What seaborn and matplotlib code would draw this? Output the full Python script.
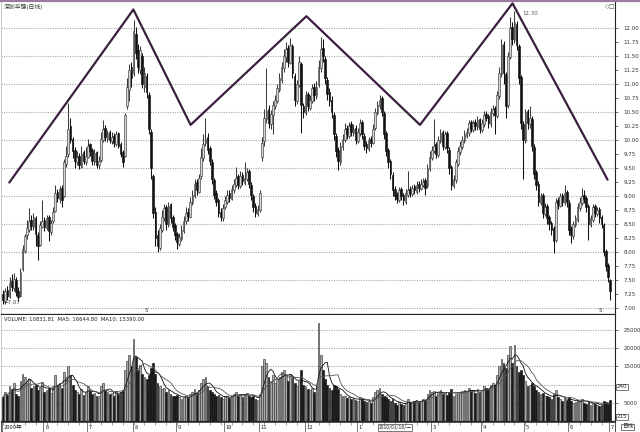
import numpy as np
import pandas as pd
import matplotlib
matplotlib.use("Agg")
import matplotlib.pyplot as plt
from matplotlib.lines import Line2D
import seaborn as sns

title = "深圳华强(日线)"
vol_header = "VOLUME: 10831.81  MA5: 16644.80  MA10: 15390.00"

opens = [7.25, 7.12, 7.32, 7.20, 7.48, 7.35, 7.50, 7.30, 7.22, 7.70,
         8.02, 8.30, 8.40, 8.58, 8.44, 8.60, 8.30, 8.12, 8.45, 8.58,
         8.42, 8.62, 8.36, 8.55, 8.74, 9.08, 8.94, 9.15, 9.00, 9.58,
         9.75, 10.25, 10.02, 9.82, 9.60, 9.72, 9.52, 9.78, 9.60, 9.70,
         9.92, 9.82, 9.60, 9.78, 9.55, 9.65, 10.00, 10.22, 10.02, 10.14,
         9.98, 10.08, 9.92, 10.12, 9.92, 9.78, 9.72, 10.60, 10.90, 11.30,
         11.20, 11.90, 11.60, 11.25, 11.50, 10.95, 11.15, 10.80, 10.15, 9.35,
         8.72, 8.30, 8.08, 8.40, 8.60, 8.80, 8.48, 8.85, 8.62, 8.48,
         8.32, 8.15, 8.24, 8.38, 8.55, 8.72, 8.62, 8.88, 9.00, 9.25,
         9.08, 9.35, 9.68, 9.95, 10.05, 9.85, 9.60, 9.28, 9.05, 8.92,
         8.72, 8.60, 8.80, 8.90, 9.05, 8.95, 9.10, 9.20, 9.35, 9.18,
         9.38, 9.24, 9.30, 9.44, 9.20, 9.00, 8.82, 8.68, 8.75, 9.70,
         9.98, 10.38, 10.55, 10.28, 10.44, 10.60, 10.70, 10.90, 11.08, 11.28,
         11.48, 11.65, 11.38, 11.68, 11.15, 10.70, 10.98, 11.35, 10.60, 10.48,
         10.82, 10.58, 10.70, 10.95, 10.78, 10.98, 11.28, 11.65, 11.45, 11.08,
         10.85, 10.72, 10.45, 10.08, 9.82, 9.60, 9.88, 10.00, 10.22, 10.08,
         10.28, 10.12, 10.22, 9.98, 10.12, 10.32, 10.08, 9.92, 9.84, 10.02,
         9.95, 10.22, 10.48, 10.60, 10.75, 10.48, 10.12, 9.82, 9.62, 9.38,
         9.12, 9.02, 8.93, 9.12, 9.02, 8.90, 9.02, 9.12, 9.03, 9.17,
         9.08, 9.22, 9.13, 9.20, 9.28, 9.18, 9.48, 9.68, 9.80, 9.92,
         9.73, 9.98, 10.14, 9.88, 10.12, 9.83, 9.52, 9.18, 9.28, 9.58,
         9.78, 9.88, 9.98, 10.08, 10.13, 10.32, 10.18, 10.32, 10.23, 10.37,
         10.18, 10.28, 10.47, 10.42, 10.28, 10.48, 10.57, 10.43, 10.78, 11.18,
         11.72, 11.18, 10.62, 11.48, 12.02, 11.78, 12.08, 11.68, 11.12, 10.28,
         9.98, 10.52, 10.28, 10.38, 9.88, 9.42, 9.22, 8.88, 9.02, 8.68,
         8.82, 8.62, 8.52, 8.42, 8.22, 8.92, 8.83, 9.02, 8.88, 9.07,
         8.88, 8.42, 8.28, 8.48, 8.58, 8.78, 8.88, 9.02, 8.97, 8.82,
         8.48, 8.58, 8.82, 8.68, 8.77, 8.62, 8.48, 8.02, 7.77, 7.50]

highs = [7.32, 7.36, 7.40, 7.55, 7.60, 7.62, 7.55, 7.38, 7.72, 8.12,
         8.32, 8.58, 8.78, 8.66, 8.70, 8.64, 8.36, 8.55, 8.92, 8.62,
         8.66, 8.66, 8.58, 8.80, 9.20, 9.12, 9.18, 9.20, 9.66, 9.90,
         10.66, 10.40, 10.05, 9.88, 9.80, 9.76, 9.90, 9.82, 9.88, 10.02,
         9.95, 9.85, 9.84, 9.80, 9.72, 10.15, 10.35, 10.26, 10.18, 10.18,
         10.14, 10.12, 10.16, 10.14, 9.96, 9.82, 10.48, 11.10, 11.35, 11.40,
         12.14, 12.02, 11.72, 11.68, 11.55, 11.30, 11.20, 10.85, 10.20, 9.40,
         8.80, 8.40, 8.50, 8.75, 8.85, 8.84, 8.90, 8.88, 8.66, 8.52,
         8.36, 8.34, 8.48, 8.64, 8.80, 8.78, 8.98, 9.10, 9.30, 9.30,
         9.40, 9.85, 10.10, 10.39, 10.12, 9.90, 9.66, 9.32, 9.10, 8.96,
         8.78, 8.86, 9.00, 9.10, 9.10, 9.20, 9.30, 9.52, 9.40, 9.44,
         9.42, 9.60, 9.50, 9.48, 9.25, 9.04, 8.88, 8.84, 9.10, 10.05,
         10.55, 11.28, 10.62, 10.54, 10.70, 10.80, 11.00, 11.20, 11.40, 11.62,
         11.75, 11.70, 11.82, 11.72, 11.20, 11.08, 11.50, 11.40, 10.66, 10.88,
         10.86, 10.80, 11.00, 11.02, 11.05, 11.42, 11.84, 11.80, 11.50, 11.12,
         10.92, 10.78, 10.50, 10.12, 9.88, 9.96, 10.10, 10.30, 10.26, 10.32,
         10.34, 10.28, 10.26, 10.22, 10.38, 10.35, 10.12, 9.98, 10.06, 10.08,
         10.28, 10.58, 10.70, 10.80, 10.78, 10.52, 10.16, 9.86, 9.66, 9.42,
         9.18, 9.08, 9.16, 9.16, 9.06, 9.12, 9.45, 9.18, 9.20, 9.22,
         9.26, 9.26, 9.30, 9.32, 9.32, 9.58, 9.80, 9.90, 10.38, 9.96,
         10.08, 10.20, 10.18, 10.16, 10.16, 9.88, 9.56, 9.38, 9.66, 9.88,
         9.98, 10.08, 10.18, 10.22, 10.36, 10.36, 10.36, 10.38, 10.42, 10.40,
         10.38, 10.52, 10.52, 10.46, 10.58, 10.62, 10.60, 10.88, 11.30, 11.80,
         11.76, 11.22, 11.58, 12.20, 12.10, 12.30, 12.12, 11.72, 11.16, 10.34,
         10.56, 10.56, 10.60, 10.42, 9.92, 9.46, 9.26, 9.06, 9.06, 8.88,
         8.86, 8.66, 8.56, 8.46, 8.96, 8.98, 9.06, 9.06, 9.20, 9.10,
         8.92, 8.46, 8.56, 8.66, 8.88, 8.98, 9.14, 9.10, 9.00, 8.86,
         8.66, 8.86, 8.86, 8.80, 8.80, 8.66, 8.52, 8.06, 7.80, 7.52]

lows = [7.08, 7.07, 7.15, 7.18, 7.30, 7.30, 7.22, 7.12, 7.20, 7.66,
        7.98, 8.24, 8.36, 8.40, 8.40, 8.10, 7.86, 8.10, 8.42, 8.38,
        8.40, 8.20, 8.30, 8.52, 8.72, 8.90, 8.88, 8.80, 8.98, 9.52,
        9.70, 9.95, 9.68, 9.50, 9.55, 9.48, 9.50, 9.58, 9.56, 9.68,
        9.72, 9.55, 9.55, 9.50, 9.48, 9.60, 9.96, 9.98, 9.96, 9.94,
        9.92, 9.88, 9.90, 9.85, 9.70, 9.52, 9.70, 10.55, 10.70, 10.95,
        11.15, 11.45, 11.20, 11.18, 10.92, 10.85, 10.75, 10.10, 9.30, 8.60,
        8.10, 8.00, 8.04, 8.35, 8.55, 8.40, 8.45, 8.52, 8.38, 8.22,
        8.05, 8.10, 8.20, 8.34, 8.50, 8.55, 8.60, 8.84, 8.96, 9.02,
        9.05, 9.30, 9.62, 9.90, 9.75, 9.55, 9.22, 8.95, 8.82, 8.62,
        8.55, 8.56, 8.76, 8.86, 8.90, 8.92, 9.06, 9.16, 9.12, 9.15,
        9.20, 9.20, 9.26, 9.15, 8.92, 8.72, 8.62, 8.64, 8.72, 9.62,
        9.90, 10.30, 10.22, 10.20, 10.10, 10.55, 10.66, 10.86, 11.02, 11.22,
        11.40, 11.30, 11.35, 11.10, 10.60, 10.65, 10.94, 10.12, 10.40, 10.44,
        10.52, 10.54, 10.66, 10.70, 10.74, 10.94, 11.22, 11.40, 11.00, 10.72,
        10.60, 10.40, 10.00, 9.70, 9.46, 9.56, 9.82, 9.96, 10.02, 10.04,
        10.08, 10.08, 9.92, 9.94, 10.08, 10.02, 9.82, 9.76, 9.80, 9.88,
        9.92, 10.18, 10.44, 10.56, 10.42, 10.02, 9.72, 9.50, 9.30, 9.00,
        8.92, 8.88, 8.90, 8.92, 8.84, 8.86, 8.98, 8.98, 9.00, 9.04,
        9.04, 9.08, 9.10, 9.16, 9.02, 9.14, 9.44, 9.64, 9.76, 9.68,
        9.70, 9.94, 9.82, 9.84, 9.76, 9.40, 9.10, 9.14, 9.24, 9.54,
        9.74, 9.84, 9.94, 10.04, 10.08, 10.14, 10.14, 10.18, 10.18, 10.12,
        10.14, 10.24, 10.34, 10.22, 10.24, 10.42, 10.10, 10.40, 10.74, 11.12,
        11.00, 10.40, 10.58, 11.44, 11.70, 11.74, 11.60, 11.00, 10.20, 9.30,
        9.94, 10.20, 10.22, 9.80, 9.30, 9.10, 8.82, 8.84, 8.60, 8.64,
        8.50, 8.40, 8.30, 7.98, 8.18, 8.76, 8.80, 8.82, 8.84, 8.80,
        8.30, 8.16, 8.24, 8.44, 8.54, 8.74, 8.84, 8.88, 8.72, 8.22,
        8.44, 8.54, 8.62, 8.64, 8.52, 8.42, 7.92, 7.66, 7.46, 7.15]

closes = [7.15, 7.30, 7.22, 7.45, 7.38, 7.52, 7.28, 7.20, 7.65, 8.05,
          8.28, 8.42, 8.55, 8.46, 8.62, 8.32, 8.10, 8.48, 8.56, 8.44,
          8.60, 8.38, 8.52, 8.72, 9.05, 8.96, 9.12, 8.92, 9.60, 9.72,
          10.20, 10.00, 9.80, 9.62, 9.70, 9.55, 9.75, 9.62, 9.72, 9.90,
          9.80, 9.62, 9.76, 9.56, 9.62, 10.02, 10.20, 10.05, 10.12, 10.00,
          10.06, 9.95, 10.10, 9.90, 9.75, 9.60, 10.45, 10.95, 11.25, 11.10,
          11.95, 11.55, 11.30, 11.60, 11.00, 11.20, 10.85, 10.20, 9.50, 8.70,
          8.25, 8.10, 8.42, 8.62, 8.78, 8.50, 8.82, 8.60, 8.45, 8.30,
          8.18, 8.26, 8.40, 8.56, 8.70, 8.64, 8.90, 9.02, 9.22, 9.10,
          9.32, 9.70, 9.92, 10.02, 9.82, 9.62, 9.30, 9.02, 8.90, 8.70,
          8.62, 8.78, 8.92, 9.02, 8.96, 9.12, 9.22, 9.32, 9.20, 9.36,
          9.26, 9.32, 9.42, 9.22, 9.02, 8.80, 8.70, 8.76, 9.05, 9.95,
          10.40, 10.52, 10.30, 10.46, 10.62, 10.72, 10.92, 11.10, 11.30, 11.50,
          11.62, 11.40, 11.70, 11.20, 10.72, 11.00, 11.40, 10.62, 10.50, 10.80,
          10.60, 10.72, 10.92, 10.80, 10.95, 11.30, 11.62, 11.50, 11.10, 10.82,
          10.70, 10.50, 10.10, 9.80, 9.62, 9.90, 10.02, 10.20, 10.10, 10.25,
          10.15, 10.20, 10.00, 10.15, 10.30, 10.10, 9.90, 9.85, 10.00, 9.95,
          10.20, 10.50, 10.62, 10.72, 10.50, 10.10, 9.80, 9.60, 9.40, 9.10,
          9.00, 8.95, 9.10, 9.00, 8.92, 9.05, 9.10, 9.05, 9.15, 9.10,
          9.20, 9.15, 9.22, 9.25, 9.15, 9.50, 9.70, 9.82, 9.90, 9.75,
          10.00, 10.12, 9.90, 10.10, 9.85, 9.50, 9.20, 9.30, 9.60, 9.80,
          9.90, 10.00, 10.10, 10.15, 10.30, 10.20, 10.30, 10.25, 10.35, 10.20,
          10.30, 10.45, 10.40, 10.30, 10.50, 10.55, 10.45, 10.80, 11.20, 11.70,
          11.20, 10.60, 11.50, 12.00, 11.80, 12.10, 11.70, 11.10, 10.30, 10.00,
          10.50, 10.30, 10.40, 9.90, 9.40, 9.20, 8.90, 9.00, 8.70, 8.80,
          8.60, 8.50, 8.40, 8.20, 8.90, 8.85, 9.00, 8.90, 9.05, 8.90,
          8.40, 8.30, 8.50, 8.60, 8.80, 8.90, 9.00, 8.95, 8.80, 8.50,
          8.60, 8.80, 8.70, 8.75, 8.60, 8.50, 8.00, 7.75, 7.55, 7.30]

volumes = [6500, 8000, 7200, 9500, 8800, 10500, 7500, 6800, 11000, 13000,
           12000, 10500, 11500, 9000, 9500, 10000, 8500, 9200, 10800, 8000,
           8500, 9000, 7800, 9500, 12500, 10000, 10500, 9000, 13500, 12000,
           15000, 12500, 10000, 8500, 8000, 7500, 8800, 7200, 8000, 9500,
           8200, 7500, 7800, 7000, 6800, 9500, 10500, 8500, 8000, 7500,
           7800, 7000, 8200, 7500, 8000, 8500, 14000, 16500, 18000, 15000,
           22500, 17500, 14000, 15500, 13000, 12000, 11500, 12500, 14500, 16000,
           13000, 10500, 9500, 8800, 9000, 8000, 8500, 7500, 7000, 6800,
           7200, 6500, 6000, 6500, 7000, 6200, 7500, 8000, 8800, 7800,
           8500, 10500, 11500, 12000, 9500, 8500, 8000, 7500, 7000, 7200,
           6500, 6000, 6800, 7000, 6200, 6800, 7500, 8000, 7000, 7200,
           6500, 7500, 7800, 6800, 6500, 7000, 6000, 5800, 7500, 15000,
           17000, 16000, 12000, 11000, 12500, 10500, 11500, 12000, 13500, 14000,
           12500, 11000, 13000, 12000, 10500, 9500, 11000, 14000, 10000, 9500,
           8800, 8500, 9000, 8000, 9500, 27000, 18000, 14000, 11500, 10000,
           9000, 8500, 10000, 9500, 8800, 7500, 7000, 6800, 6200, 6500,
           6000, 6200, 5800, 5500, 6500, 6000, 5500, 5200, 5500, 5000,
           6500, 8000, 8500, 9000, 7500, 7000, 6500, 6000, 5500, 6000,
           5000, 4500, 5200, 4800, 4500, 5000, 6000, 5200, 5000, 5500,
           5800, 5200, 5500, 6000, 5800, 7500, 8500, 8000, 8200, 7000,
           8000, 8500, 7500, 7800, 7200, 8000, 8800, 7000, 7500, 8000,
           7800, 8200, 8500, 8000, 9000, 8200, 8500, 7800, 8800, 8000,
           8500, 9500, 9000, 8800, 10000, 10500, 9800, 12500, 15000, 17000,
           16000, 14500, 18000, 20500, 16000, 21000, 15000, 13500, 14000, 12500,
           11000, 9500, 10000, 10500, 9500, 8500, 8000, 7500, 7800, 7000,
           6800, 6500, 6000, 7500, 8500, 6500, 6000, 5500, 6200, 5800,
           6500, 5500, 5000, 5200, 5800, 5500, 6000, 5000, 4800, 5500,
           4500, 5000, 4800, 4500, 4200, 4500, 5500, 5200, 4800, 5800]

month_labels = ["2009年", "6", "7", "8", "9", "10", "11", "12", "1", "3", "4", "5", "6", "7"]
month_pos = [0, 19, 39, 60, 80, 102, 118, 139, 163, 197, 220, 240, 260, 279]

zig_idx = [2.9, 59.9, 86.2, 139.4, 191.6, 234.1, 277.8]
zig_price = [9.24, 12.33, 10.27, 12.21, 10.27, 12.44, 9.29]

price_ticks = [7.00, 7.25, 7.50, 7.75, 8.00, 8.25, 8.50, 8.75, 9.00, 9.25, 9.50,
               9.75, 10.00, 10.25, 10.50, 10.75, 11.00, 11.25, 11.50, 11.75, 12.00]
price_grid = [7.0, 7.5, 8.0, 8.5, 9.0, 9.5, 10.0, 10.5, 11.0, 11.5, 12.0]
vol_ticks = [5000, 15000, 20000, 25000]
vol_grid = [5000, 10000, 15000, 20000, 25000]

sns.set_theme(style="white")
plt.rcParams['font.family'] = ['DejaVu Sans', 'Noto Sans CJK SC']
CJK = ['Noto Sans CJK SC', 'DejaVu Sans']

n = min(len(opens), len(highs), len(lows), len(closes), len(volumes))
df = pd.DataFrame({"o": opens[:n], "h": highs[:n], "l": lows[:n],
                   "c": closes[:n], "v": volumes[:n]})
df["i"] = np.arange(n)
df["up"] = df["c"] >= df["o"]
df["ma5"] = df["v"].rolling(5, min_periods=1).mean()
df["ma10"] = df["v"].rolling(10, min_periods=1).mean()

W, H = 640, 432
fig = plt.figure(figsize=(6.4, 4.32), dpi=100)
fig.patch.set_facecolor("white")

def fx(px):
    return px / W

def fy(py):
    return 1 - py / H

right_px = 615
ax = fig.add_axes([fx(1), fy(314), fx(right_px - 1), (314 - 2) / H])
axv = fig.add_axes([fx(1), fy(421), fx(right_px - 1), (421 - 315) / H])
axd = fig.add_axes([fx(1), 0.0, fx(right_px - 1), (432 - 422) / H])

xlim = (-0.92, 281.2)
up_face, up_edge = "#d6d6d6", "#3c3c3c"
dn_face, dn_edge = "#111111", "#111111"
face = np.where(df["up"], up_face, dn_face)
edge = np.where(df["up"], up_edge, dn_edge)
vface = np.where(df["up"], "#a8a8a8", "#1a1a1a")
vedge = np.where(df["up"], "#3c3c3c", "#1a1a1a")

# ---- price panel ----
for g in price_grid:
    ax.axhline(g, color="#a8a8a8", lw=0.8, ls=(0, (1, 1.2)), zorder=0)
ax.vlines(df["i"], df["l"], df["h"], colors=edge, lw=0.75, zorder=2)
body_bot = np.minimum(df["o"], df["c"])
body_h = np.maximum((df["c"] - df["o"]).abs(), 0.012)
ax.bar(df["i"], body_h, bottom=body_bot, width=0.75, color=face,
       edgecolor=edge, linewidth=0.45, zorder=3)
sns.lineplot(x=zig_idx, y=zig_price, sort=False, ax=ax, color="#3a1f3e",
             lw=1.6, zorder=4, legend=False)
ax.set_xlim(*xlim)
ax.set_ylim(6.893, 12.464)
ax.yaxis.tick_right()
ax.set_yticks(price_ticks)
ax.set_yticklabels([f"{t:.2f}" for t in price_ticks])
ax.set_xticks([])
ax.tick_params(axis="y", labelsize=4, length=2.5, width=0.5, pad=3.5,
               colors="#333333", right=True, left=False)
ax.set_xlabel("")
ax.set_ylabel("")
ax.spines["top"].set_visible(False)
ax.spines["left"].set_color("#bbbbbb")
ax.spines["left"].set_linewidth(0.6)
ax.spines["right"].set_color("#222222")
ax.spines["right"].set_linewidth(0.8)
ax.spines["bottom"].set_color("#222222")
ax.spines["bottom"].set_linewidth(0.9)

ax.text(0.5, 12.43, title, fontsize=4.2, family=CJK, color="#333333",
        va="top", ha="left")
ax.text(238.5, 12.25, "12.30", fontsize=4, color="#555555", va="center")
ax.text(0.2, 7.09, "←7.07", fontsize=4, color="#444444", va="center")
ax.text(66, 6.91, "5", fontsize=4, color="#333333", va="bottom", ha="center")
ax.text(274.3, 6.91, "5", fontsize=4, color="#333333", va="bottom", ha="center")
ax.text(276.5, 12.43, "◇□", fontsize=4.5, color="#555555", va="top", ha="left")

# ---- volume panel ----
for g in vol_grid:
    axv.axhline(g, color="#a8a8a8", lw=0.8, ls=(0, (1, 1.2)), zorder=0)
axv.bar(df["i"], df["v"], width=0.8, color=vface, edgecolor=vedge,
        linewidth=0.45, zorder=2)
sns.lineplot(x=df["i"], y=df["ma5"], ax=axv, color="#111111", lw=0.6,
             zorder=3, legend=False)
sns.lineplot(x=df["i"], y=df["ma10"], ax=axv, color="#555555", lw=0.6,
             zorder=3, legend=False)
axv.set_xlim(*xlim)
axv.set_ylim(0, 29120)
axv.yaxis.tick_right()
axv.set_yticks(vol_ticks)
axv.set_yticklabels([str(t) for t in vol_ticks])
axv.set_xticks([])
axv.set_xlabel("")
axv.set_ylabel("")
axv.tick_params(axis="y", labelsize=4, length=2.5, width=0.5, pad=3.5,
                colors="#333333", right=True, left=False)
axv.spines["top"].set_visible(False)
axv.spines["left"].set_color("#bbbbbb")
axv.spines["left"].set_linewidth(0.6)
axv.spines["right"].set_color("#222222")
axv.spines["right"].set_linewidth(0.8)
axv.spines["bottom"].set_color("#222222")
axv.spines["bottom"].set_linewidth(0.8)
axv.text(0.3, 28700, vol_header, fontsize=3.8, color="#222222", va="top")

# ---- date strip ----
axd.set_xlim(*xlim)
axd.set_ylim(0, 1)
axd.set_xticks([])
axd.set_yticks([])
for s in axd.spines.values():
    s.set_color("#333333")
    s.set_linewidth(0.6)
axd.vlines(np.arange(0, n, 5), 0.72, 1.0, colors="#555555", lw=0.4)
for lab, p in zip(month_labels, month_pos):
    axd.vlines(p - 0.4, 0, 1, colors="#444444", lw=0.5)
    axd.text(p + 0.4, 0.42, lab, fontsize=4.2, family=CJK, color="#222222",
             va="center", ha="left")
axd.text(172.5, 0.45, "2010/01/18/一", fontsize=3.6, family=CJK,
         color="#222222", va="center", ha="left",
         bbox=dict(boxstyle="square,pad=0.15", fc="white", ec="#444444", lw=0.5))

# right-side boxes
fig.text(fx(622), fy(427), "日线", fontsize=4, family=CJK, color="#222222",
         va="center", ha="left",
         bbox=dict(boxstyle="square,pad=0.15", fc="white", ec="#444444", lw=0.5))
fig.text(fx(616.5), fy(387), "240", fontsize=4, color="#222222",
         va="center", ha="left",
         bbox=dict(boxstyle="square,pad=0.12", fc="white", ec="#444444", lw=0.5))
fig.text(fx(616.5), fy(417), "215", fontsize=4, color="#222222",
         va="center", ha="left",
         bbox=dict(boxstyle="square,pad=0.12", fc="white", ec="#444444", lw=0.5))

fig.add_artist(Line2D([0, 1], [fy(0.8), fy(0.8)], transform=fig.transFigure,
                      color="#9a7c9e", lw=1.6))

fig.savefig("out.png", dpi=100, facecolor="white")
